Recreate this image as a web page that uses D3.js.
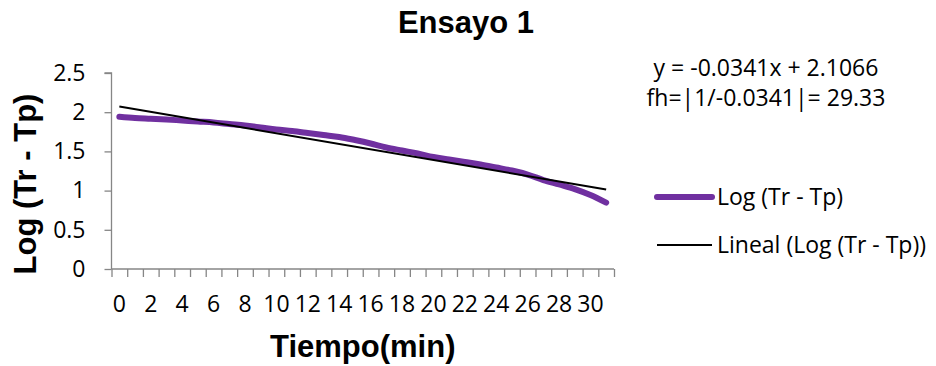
<!DOCTYPE html>
<html>
<head>
<meta charset="utf-8">
<script src="https://cdn.jsdelivr.net/npm/d3@7"></script>
<style>
  body { margin: 0; background: #fff; }
  .tick text { font-family: "Open Sans", sans-serif; font-size: 23px; fill: #000; }
  .bold { font-family: "Liberation Sans", Arial, sans-serif; font-weight: bold; fill: #000; }
  .note { font-family: "Open Sans", sans-serif; font-size: 23px; fill: #000; }
</style>
</head>
<body>
<div id="chart"></div>
<script>
// tiempo (min), categorias del eje x
const tiempo = d3.range(0, 32)
// Log (Tr - Tp)
const logTrTp = [
  1.943, 1.926, 1.917, 1.907, 1.894, 1.881, 1.869, 1.849, 1.830, 1.805,
  1.779, 1.760, 1.735, 1.709, 1.684, 1.645, 1.601, 1.550, 1.511, 1.473,
  1.429, 1.397, 1.365, 1.333, 1.295, 1.256, 1.205, 1.135, 1.078, 1.020,
  0.944, 0.846
]
// linea de tendencia lineal (x = 1..32 como en Excel)
const trendSlope = -0.0341
const trendIntercept = 2.1066
const yTicks = [0, 0.5, 1, 1.5, 2, 2.5]
const xLabels = [0, 2, 4, 6, 8, 10, 12, 14, 16, 18, 20, 22, 24, 26, 28, 30]
const equationLines = ['y = -0.0341x + 2.1066', 'fh=|1/-0.0341|= 29.33']
const legendItems = [
  { name: 'Log (Tr - Tp)', color: '#7030A0', width: 6 },
  { name: 'Lineal (Log (Tr - Tp))', color: '#000', width: 2 }
]

const width = 936, height = 366
const plotLeft = 111.5, plotRight = 614, plotTop = 73, plotBottom = 269

var svg = d3.select('#chart').append('svg')
  .attr('width', width)
  .attr('height', height)

var x = d3.scaleBand().domain(tiempo).range([plotLeft, plotRight])
var xEdge = d3.scaleLinear().domain([0, tiempo.length]).range([plotLeft, plotRight])
var y = d3.scaleLinear().domain([0, 2.5]).range([plotBottom, plotTop])

// eje y
var yAxis = svg.append('g')
  .attr('transform', `translate(${plotLeft},0)`)
  .call(d3.axisLeft(y).tickValues(yTicks).tickSize(7).tickPadding(19).tickFormat(d => String(d)))
yAxis.selectAll('line, path').attr('stroke', '#868686').attr('stroke-width', 1.3)
yAxis.select('.domain').attr('d', `M-7,${plotTop}H0V${plotBottom}`)

// marcas del eje x en los bordes de categoria
var xTicks = svg.append('g')
  .attr('transform', `translate(0,${plotBottom})`)
  .call(d3.axisBottom(xEdge).tickValues(d3.range(0, tiempo.length + 1)).tickSize(8).tickFormat(''))
xTicks.selectAll('line, path').attr('stroke', '#868686').attr('stroke-width', 1.3)
xTicks.select('.domain').attr('d', `M${plotLeft},0H${plotRight}`)

// etiquetas del eje x
var xLab = svg.append('g')
  .attr('transform', `translate(0,${plotBottom})`)
  .call(d3.axisBottom(x).tickValues(xLabels).tickSize(0).tickPadding(27))
xLab.select('.domain').remove()

// serie
var line = d3.line()
  .x((d, i) => x(tiempo[i]) + x.bandwidth() / 2)
  .y(d => y(d))
  .curve(d3.curveMonotoneX)

svg.append('path')
  .datum(logTrTp)
  .attr('d', line)
  .attr('fill', 'none')
  .attr('stroke', legendItems[0].color)
  .attr('stroke-width', legendItems[0].width)
  .attr('stroke-linecap', 'round')
  .attr('stroke-linejoin', 'round')

// tendencia
var trendEnds = [0, tiempo.length - 1]
svg.append('path')
  .datum(trendEnds)
  .attr('d', d3.line()
    .x(i => x(tiempo[i]) + x.bandwidth() / 2)
    .y(i => y(trendIntercept + trendSlope * (i + 1))))
  .attr('fill', 'none')
  .attr('stroke', legendItems[1].color)
  .attr('stroke-width', legendItems[1].width)

// titulos
svg.append('text')
  .attr('class', 'bold')
  .attr('x', 466)
  .attr('y', 33)
  .attr('text-anchor', 'middle')
  .style('font-size', '31px')
  .text('Ensayo 1')

svg.append('text')
  .attr('class', 'bold')
  .attr('transform', 'translate(36,184) rotate(-90)')
  .attr('text-anchor', 'middle')
  .style('font-size', '31px')
  .text('Log (Tr - Tp)')

svg.append('text')
  .attr('class', 'bold')
  .attr('x', (plotLeft + plotRight) / 2)
  .attr('y', 357)
  .attr('text-anchor', 'middle')
  .style('font-size', '31px')
  .text('Tiempo(min)')

// ecuacion
svg.selectAll('.eq')
  .data(equationLines)
  .enter().append('text')
  .attr('class', 'note eq')
  .attr('x', 766)
  .attr('y', (d, i) => 76 + i * 30)
  .attr('text-anchor', 'middle')
  .text(d => d)

// leyenda
var legend = svg.selectAll('.legend')
  .data(legendItems)
  .enter().append('g')
  .attr('class', 'legend')
  .attr('transform', (d, i) => `translate(657,${197 + i * 48})`)

legend.append('line')
  .attr('x1', 0).attr('x2', 55)
  .attr('stroke', d => d.color)
  .attr('stroke-width', d => d.width)
  .attr('stroke-linecap', (d, i) => i === 0 ? 'round' : 'butt')

legend.append('text')
  .attr('class', 'note')
  .attr('x', 60)
  .attr('dy', '0.35em')
  .text(d => d.name)
</script>
</body>
</html>
